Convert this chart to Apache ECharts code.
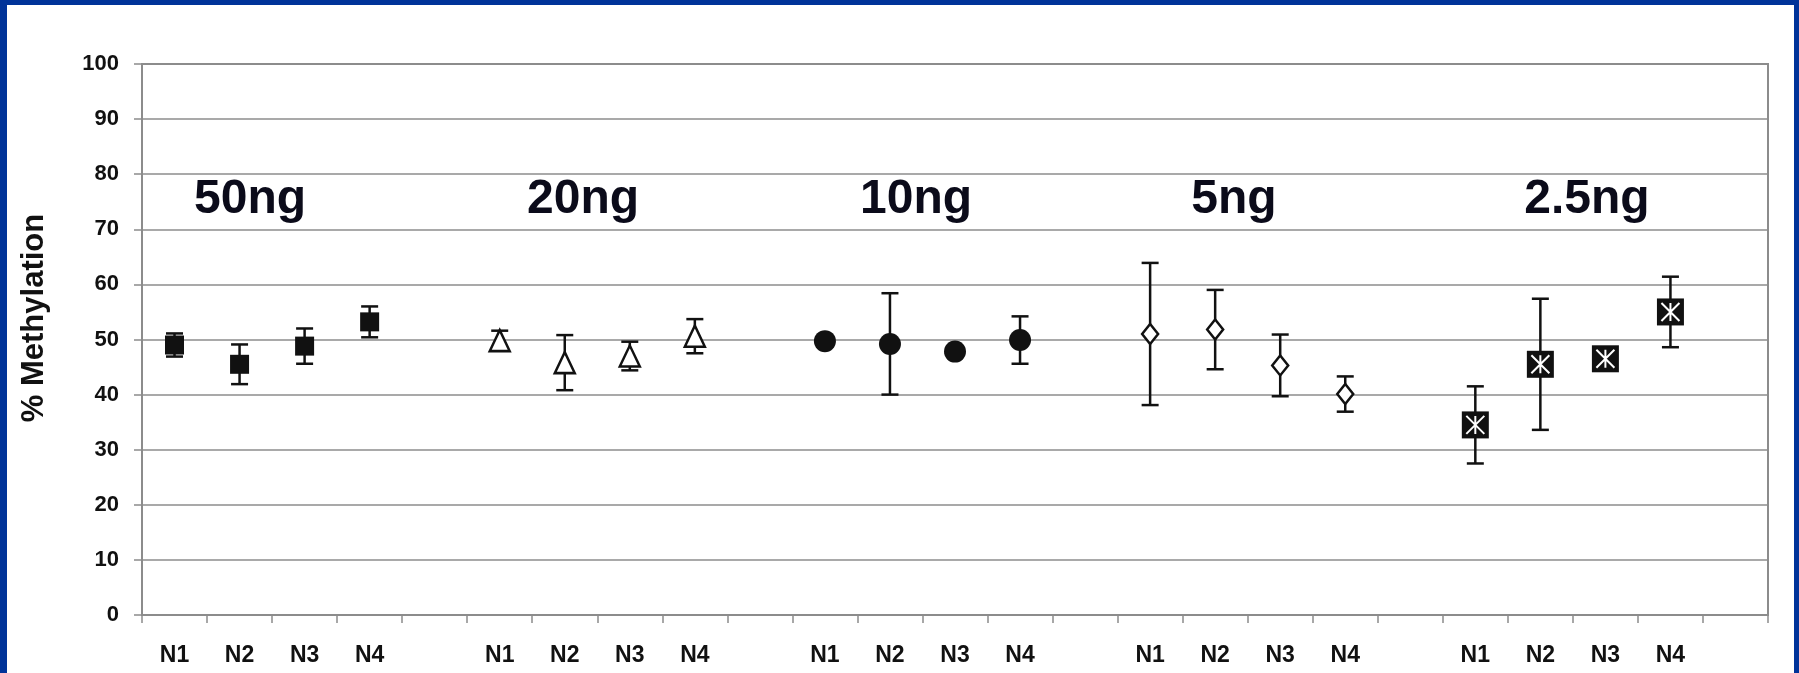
<!DOCTYPE html>
<html>
<head>
<meta charset="utf-8">
<script src="https://cdn.jsdelivr.net/npm/echarts@6/dist/echarts.min.js"></script>
<style>
    html, body { margin: 0; padding: 0; background: #003399; width: 1799px; height: 673px; overflow: hidden; }
    #main { position: absolute; left: 7px; top: 5px; width: 1787px; height: 668px; background: #fff; }
</style>
</head>
<body>
<div id="main"></div>
<script>
// x categories: 5 groups of N1-N4 with one empty slot after each
var categories = ['N1', 'N2', 'N3', 'N4', '',
    'N1', 'N2', 'N3', 'N4', '',
    'N1', 'N2', 'N3', 'N4', '',
    'N1', 'N2', 'N3', 'N4', '',
    'N1', 'N2', 'N3', 'N4', ''];
var groupNames = ['50ng', '20ng', '10ng', '5ng', '2.5ng'];
// % methylation (mean) per group
var mean50 = [49.0, 45.5, 48.8, 53.2];
var mean20 = [49.8, 45.8, 47.0, 50.6];
var mean10 = [49.7, 49.2, 47.8, 49.9];
var mean5 = [51.0, 51.8, 45.3, 40.1];
var mean25 = [34.5, 45.5, 46.5, 55.0];
// error (+/-)
var err50 = [2.1, 3.6, 3.2, 2.8];
var err20 = [1.8, 5.0, 2.6, 3.1];
var err10 = [0.8, 9.2, 1.0, 4.3];
var err5 = [12.9, 7.2, 5.6, 3.2];
var err25 = [7.0, 11.9, 1.0, 6.4];
var yTicks = [0, 10, 20, 30, 40, 50, 60, 70, 80, 90, 100];

var means = [mean50, mean20, mean10, mean5, mean25];
var errs = [err50, err20, err10, err5, err25];

var pointData = [], errData = [];
means.forEach(function (g, gi) {
    var pts = [];
    g.forEach(function (v, i) {
        var idx = gi * 5 + i;
        pts.push([idx, v]);
        errData.push([idx, v - errs[gi][i], v + errs[gi][i]]);
    });
    pointData.push(pts);
});

var sans = '"Liberation Sans", Arial, sans-serif';

var myChart = echarts.init(document.getElementById('main'));
var options = {
    animation: false,
    backgroundColor: '#fff',
    grid: {
        left: 135, right: 26, top: 59, bottom: 58,
        show: true, borderColor: '#8c8c8c', borderWidth: 2, backgroundColor: 'transparent'
    },
    xAxis: {
        type: 'category',
        data: categories,
        boundaryGap: true,
        axisLine: { lineStyle: { color: '#8c8c8c', width: 2 } },
        axisTick: { show: true, interval: 0, length: 8, lineStyle: { color: '#8c8c8c', width: 1.5 } },
        axisLabel: { interval: 0, margin: 29, color: '#111', fontSize: 23, fontWeight: 'bold', fontFamily: sans },
        splitLine: { show: false }
    },
    yAxis: {
        type: 'value',
        min: yTicks[0],
        max: yTicks[yTicks.length - 1],
        interval: 10,
        axisLine: { show: true, lineStyle: { color: '#8c8c8c', width: 2 } },
        axisTick: { show: true, length: 8, lineStyle: { color: '#8c8c8c', width: 1.5 } },
        axisLabel: { margin: 23, color: '#111', fontSize: 22, fontWeight: 'bold', fontFamily: sans },
        splitLine: { lineStyle: { color: '#8c8c8c', width: 1.5 } }
    },
    graphic: [
        { type: 'text', x: 27, y: 313, rotation: Math.PI / 2,
          style: { text: '% Methylation', fill: '#111', font: 'bold 31px ' + sans, align: 'center', verticalAlign: 'middle' } }
    ].concat(groupNames.map(function (n, i) {
        var xs = [243, 576, 909, 1227, 1580];
        return { type: 'text', x: xs[i], y: 195,
            style: { text: n, fill: '#0b0b1a', font: 'bold 48px ' + sans, align: 'center', verticalAlign: 'middle' } };
    })),
    series: [
        {
            type: 'custom',
            name: 'error',
            data: errData,
            z: 2,
            renderItem: function (params, api) {
                var idx = api.value(0);
                var lo = api.coord([idx, api.value(1)]);
                var hi = api.coord([idx, api.value(2)]);
                var hw = 8.5;
                var st = { stroke: '#111', lineWidth: 2.5 };
                return {
                    type: 'group',
                    children: [
                        { type: 'line', shape: { x1: hi[0], y1: hi[1], x2: lo[0], y2: lo[1] }, style: st },
                        { type: 'line', shape: { x1: hi[0] - hw, y1: hi[1], x2: hi[0] + hw, y2: hi[1] }, style: st },
                        { type: 'line', shape: { x1: lo[0] - hw, y1: lo[1], x2: lo[0] + hw, y2: lo[1] }, style: st }
                    ]
                };
            }
        },
        { type: 'scatter', name: '50ng', data: pointData[0], z: 3, symbol: 'rect', symbolSize: 19,
          itemStyle: { color: '#111', opacity: 1 } },
        { type: 'scatter', name: '20ng', data: pointData[1], z: 3, symbol: 'triangle', symbolSize: [20, 21],
          itemStyle: { color: '#fff', borderColor: '#111', borderWidth: 2.5, opacity: 1 } },
        { type: 'scatter', name: '10ng', data: pointData[2], z: 3, symbol: 'circle', symbolSize: [22, 22],
          itemStyle: { color: '#111', opacity: 1 } },
        { type: 'scatter', name: '5ng', data: pointData[3], z: 3, symbol: 'diamond', symbolSize: [16, 20],
          itemStyle: { color: '#fff', borderColor: '#111', borderWidth: 2.5, opacity: 1 } },
        { type: 'scatter', name: '2.5ng', data: pointData[4], z: 3, symbol: 'rect', symbolSize: 27,
          itemStyle: { color: '#111', opacity: 1 } },
        { type: 'scatter', name: '2.5ng-x', data: pointData[4], z: 4, symbol: 'path://M0,0L10,10M10,0L0,10M5,0L5,10',
          symbolSize: 18, itemStyle: { color: 'none', borderColor: '#fff', borderWidth: 2, opacity: 1 } }
    ]
};
myChart.setOption(options);
</script>
</body>
</html>
